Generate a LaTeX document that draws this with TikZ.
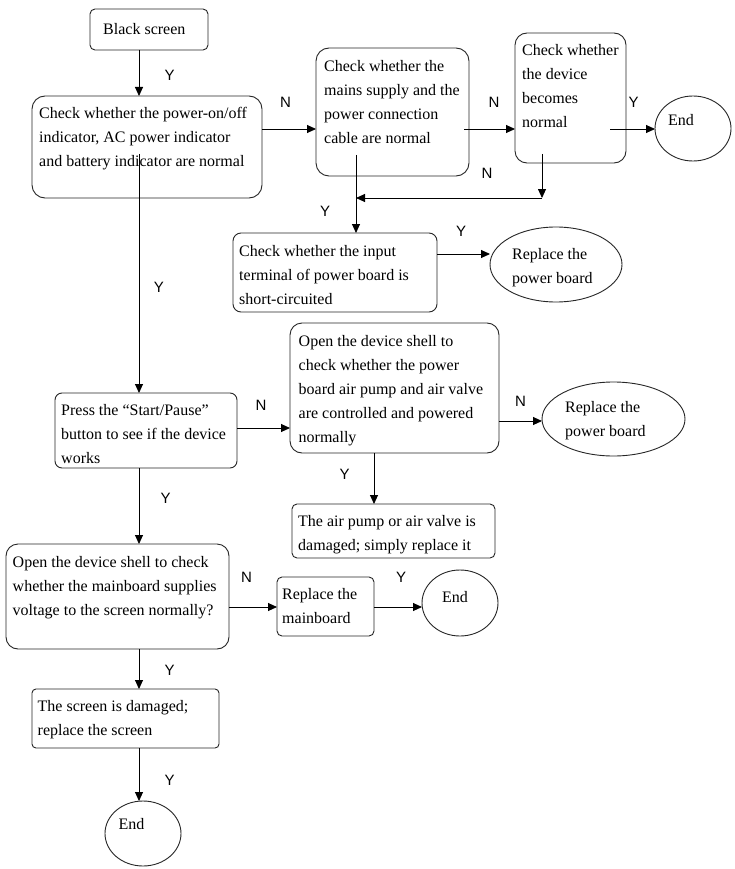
\documentclass[tikz,border=0pt]{standalone}
\usepackage{fontspec}
\setmainfont{Liberation Serif}
\newfontfamily\lblfont{Liberation Sans}
\usetikzlibrary{arrows.meta,calc,shapes.geometric}
\newcommand\mlines[1]{\begin{tabular}[t]{@{}l@{}}#1\end{tabular}}
\begin{document}
\begin{tikzpicture}[x=1pt,y=-1pt,
  box/.style={draw=black!85, line width=0.9pt, inner sep=0pt, outer sep=0pt},
  oval/.style={ellipse, draw=black!85, line width=0.9pt, inner sep=0pt, outer sep=0pt},
  txt/.style={anchor=base west, inner sep=0pt, font=\fontsize{16}{24}\selectfont},
  lbl/.style={inner sep=0pt, font=\lblfont\fontsize{15}{18}\selectfont},
  arr/.style={line width=0.9pt, -{Triangle[length=9pt,width=8pt]}},
  ln/.style={line width=0.9pt}]
\useasboundingbox (0,0) rectangle (734,869);
\fill[white] (0,0) rectangle (734,869);

% ---- shapes ----
\node[box, rounded corners=5pt, minimum width=118pt, minimum height=41pt] (b1) at (149,29.5) {};
\node[box, rounded corners=13pt, minimum width=230pt, minimum height=102pt] (b2) at (147,147) {};
\node[box, rounded corners=13pt, minimum width=153pt, minimum height=128pt] (b3) at (392.5,112) {};
\node[box, rounded corners=12pt, minimum width=111pt, minimum height=130pt] (b4) at (570.5,98) {};
\node[oval, minimum width=76pt, minimum height=65pt] (e1) at (693,128.5) {};
\node[box, rounded corners=8pt, minimum width=204pt, minimum height=79pt] (b5) at (335,272.5) {};
\node[oval, minimum width=132pt, minimum height=75pt] (e2) at (556,264.5) {};
\node[box, rounded corners=7pt, minimum width=182pt, minimum height=75pt] (b6) at (146,430.5) {};
\node[box, rounded corners=12pt, minimum width=209pt, minimum height=130pt] (b7) at (394.5,388) {};
\node[oval, minimum width=143pt, minimum height=74pt] (e3) at (613.5,419) {};
\node[box, rounded corners=5pt, minimum width=203pt, minimum height=54pt] (b8) at (393.5,531) {};
\node[box, rounded corners=12pt, minimum width=223pt, minimum height=105pt] (b9) at (117.5,596.5) {};
\node[box, rounded corners=5pt, minimum width=97pt, minimum height=59pt] (b10) at (325.5,606.5) {};
\node[oval, minimum width=76pt, minimum height=66pt] (e4) at (460,603) {};
\node[box, rounded corners=4pt, minimum width=187pt, minimum height=59pt] (b11) at (125.5,718.5) {};
\node[oval, minimum width=76pt, minimum height=65pt] (e5) at (143,833.5) {};

% ---- texts ----
\node[txt] (t1) at (103,35) {Black screen};
\node[txt] (t2) at (39,119) {\mlines{Check whether the power-on/off\\indicator, AC power indicator\\and battery indicator are normal}};
\node[txt] (t3) at (324,72) {\mlines{Check whether the\\mains supply and the\\power connection\\cable are normal}};
\node[txt] (t4) at (522,56) {\mlines{Check whether\\the device\\becomes\\normal}};
\node[txt] (te1) at (668,125.5) {End};
\node[txt] (t5) at (239,256.5) {\mlines{Check whether the input\\terminal of power board is\\short-circuited}};
\node[txt] (te2) at (512,259) {\mlines{Replace the\\power board}};
\node[txt] (t6) at (61,415) {\mlines{Press the “Start/Pause”\\button to see if the device\\works}};
\node[txt] (t7) at (298.5,346.5) {\mlines{Open the device shell to\\check whether the power\\board air pump and air valve\\are controlled and powered\\normally}};
\node[txt] (te3) at (565,412.5) {\mlines{Replace the\\power board}};
\node[txt] (t8) at (298,526) {\mlines{The air pump or air valve is\\damaged; simply replace it}};
\node[txt] (t9) at (12.5,567.5) {\mlines{Open the device shell to check\\whether the mainboard supplies\\voltage to the screen normally?}};
\node[txt] (t10) at (282,599.5) {\mlines{Replace the\\mainboard}};
\node[txt] (te4) at (442,602.5) {End};
\node[txt] (t11) at (37.5,711.5) {\mlines{The screen is damaged;\\replace the screen}};
\node[txt] (te5) at (118.5,829.5) {End};

% ---- connectors ----
\draw[arr] (b1.south -| 139,0) -- (b2.north -| 139,0);
\draw[arr] (b2.east |- 0,129) -- (b3.west |- 0,129);
\draw[arr] ($(b3.east |- 0,129)+(-5,0)$) -- (b4.west |- 0,129);
\draw[arr] ($(b4.east |- 0,129)+(-16,0)$) -- (e1.west |- 0,129);
\coordinate (c1) at (542,198);
\coordinate (c2) at (356,198);
\draw[arr] ($(b4.south -| 542,0)+(0,-9)$) -- (c1);
\draw[arr] (c1) -- (c2);
\draw[arr] ($(b3.south -| 356,0)+(0,-21)$) -- (b5.north -| 356,0);
\draw[arr] (b5.east |- 0,254) -- (e2.west |- 0,254);
\draw[arr] ($(b2.south -| 139,0)+(0,-44)$) -- (b6.north -| 139,0);
\draw[arr] (b6.east |- 0,428) -- (b7.west |- 0,428);
\draw[arr] (b7.east |- 0,421) -- (e3.west |- 0,421);
\draw[arr] (b7.south -| 374,0) -- (b8.north -| 374,0);
\draw[arr] (b6.south -| 139,0) -- (b9.north -| 139,0);
\draw[arr] (b9.east |- 0,607) -- (b10.west |- 0,607);
\draw[arr] (b10.east |- 0,607) -- (e4.west |- 0,607);
\draw[arr] (b9.south -| 139,0) -- (b11.north -| 139,0);
\draw[arr] (b11.south -| 139,0) -- (e5.north -| 139,0);

% ---- labels ----
\node[lbl] (y1) at (169.5,75.5) {Y};
\node[lbl] (n1) at (285.5,102.5) {N};
\node[lbl] (y2) at (325,211) {Y};
\node[lbl] (n2) at (494,102.5) {N};
\node[lbl] (y3) at (633.5,102.5) {Y};
\node[lbl] (n3) at (487,173.5) {N};
\node[lbl] (y4) at (461,231) {Y};
\node[lbl] (y5) at (159,287) {Y};
\node[lbl] (n4) at (261,405) {N};
\node[lbl] (y6) at (344.5,474.5) {Y};
\node[lbl] (n5) at (520.5,401) {N};
\node[lbl] (y7) at (165.5,498.5) {Y};
\node[lbl] (n6) at (246.5,577.5) {N};
\node[lbl] (y8) at (401,577.5) {Y};
\node[lbl] (y9) at (169.5,670) {Y};
\node[lbl] (y10) at (169.5,780) {Y};
\end{tikzpicture}
\end{document}
